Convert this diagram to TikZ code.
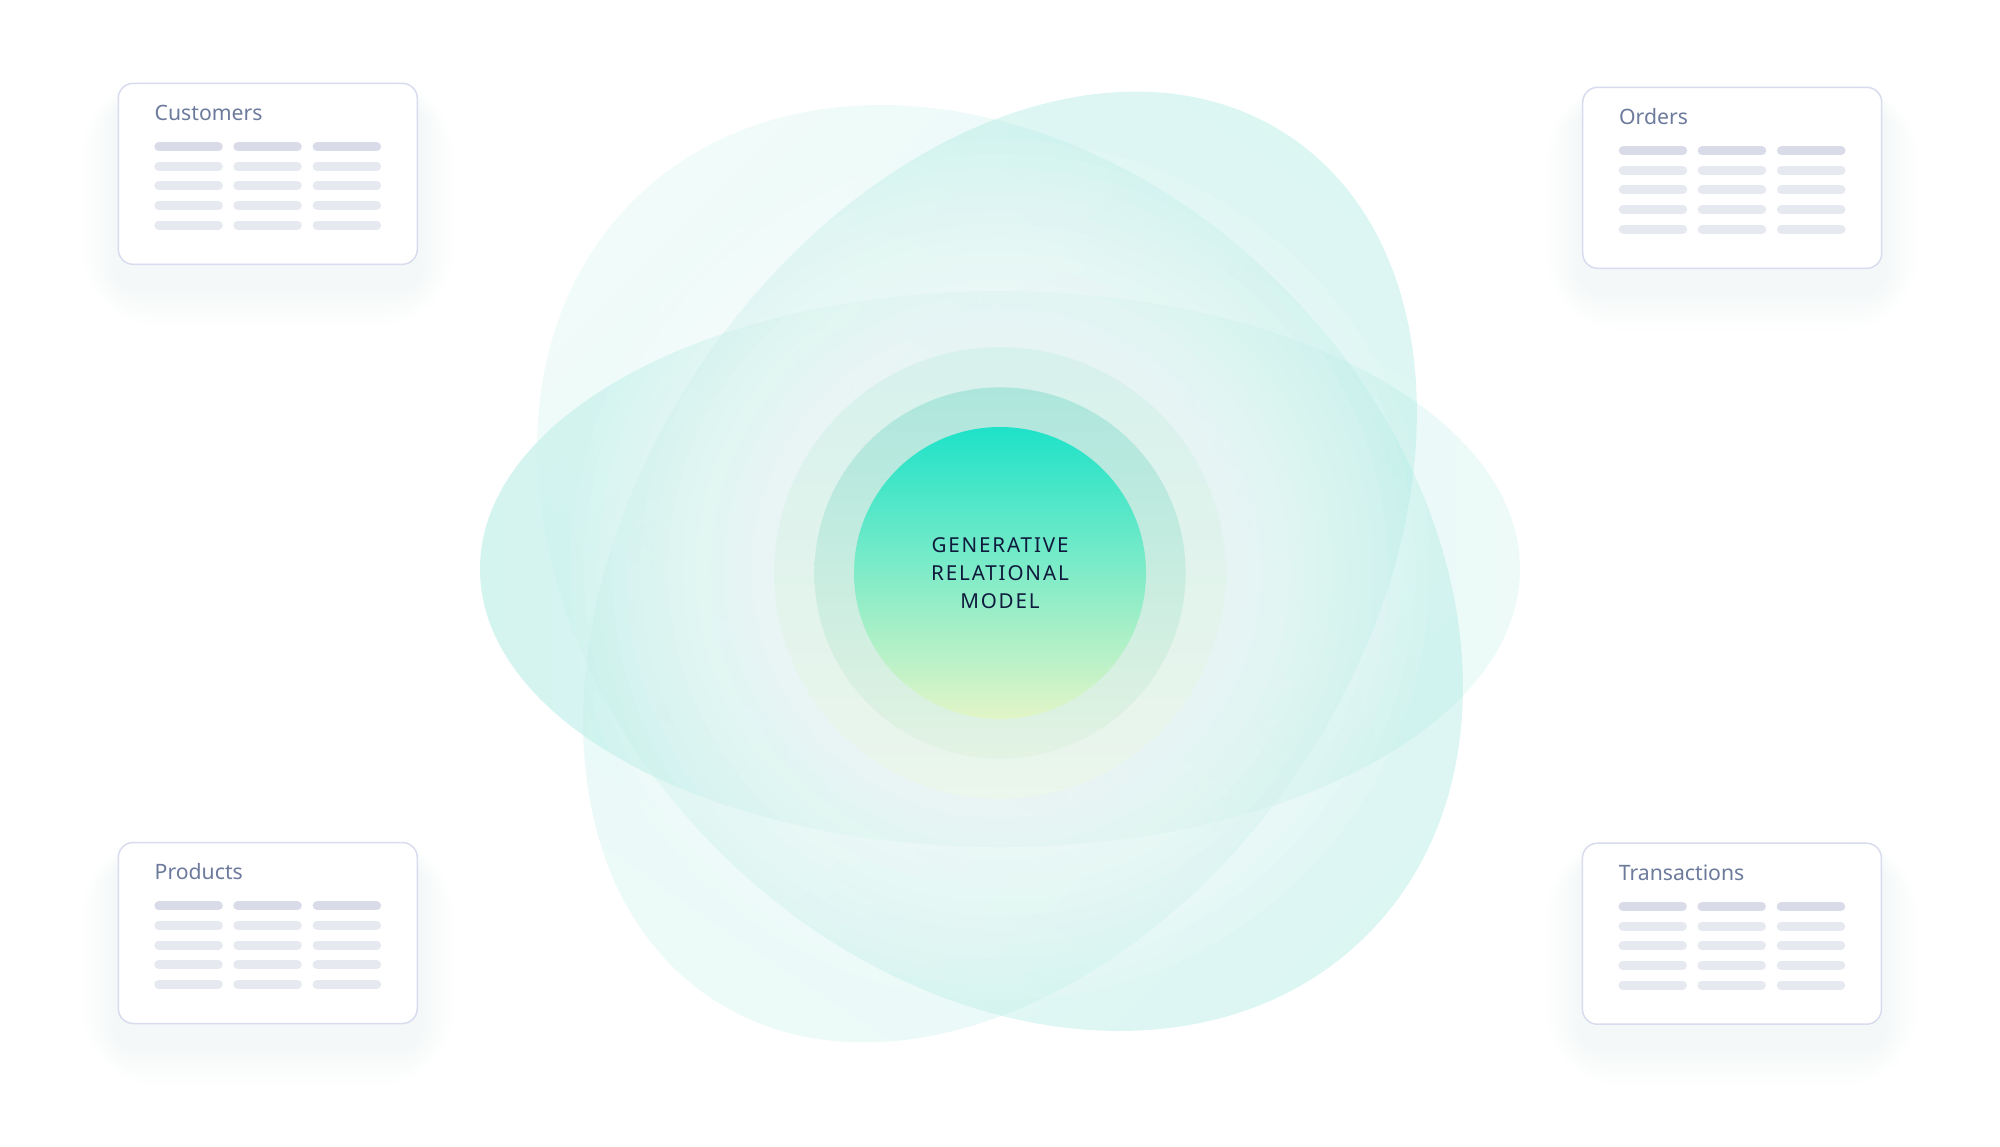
\documentclass[tikz,border=0pt]{standalone}
\usepackage{fontspec}
\setmainfont{Noto Sans}
\newfontfamily\trackedfont[LetterSpace=9]{Noto Sans}
\usetikzlibrary{calc, positioning}
\definecolor{blob}{HTML}{2CC9B4}
\definecolor{cardline}{HTML}{D8DCEE}
\definecolor{cardtext}{HTML}{6C7A9C}
\definecolor{barhead}{HTML}{D9DCE8}
\definecolor{barrow}{HTML}{E7E9F1}
\definecolor{cardshadow}{HTML}{8AB3B5}
\definecolor{coretop}{HTML}{1EE2C8}
\definecolor{coremid}{HTML}{5BE6C8}
\definecolor{corebot}{HTML}{E2F5C7}
\definecolor{ringtop}{HTML}{ADE6DD}
\definecolor{ringbot}{HTML}{E3F3E3}
\definecolor{halotop}{HTML}{D7F1EC}
\definecolor{halobot}{HTML}{EBF6EC}
\definecolor{coretext}{HTML}{0F1B3C}
\tikzset{
    card/.style = {
        draw=cardline, fill=white, line width=0.75pt, rounded corners=7.5pt,
        minimum width=149.5pt, minimum height=90.5pt, inner sep=0pt
    },
    cardtitle/.style = {
        font=\fontsize{10.6pt}{13pt}\selectfont, text=cardtext, inner sep=0pt, anchor=base west
    },
    bar/.style = {line width=4.5pt, line cap=round},
    disc/.style = {circle, inner sep=0pt, draw=none},
    blobfill/.style = {fill opacity=0.33},
    pics/TableCard/.style = {
        code = {
            % soft shadow under the card
            \foreach \s in {1,...,12}{
                \pgfmathsetmacro\rc{7.5+2.5*\s}
                \fill[cardshadow, fill opacity=0.007, rounded corners=\rc pt]
                    (-149.5-3*\s, -70.5-2*\s) rectangle (149.5+3*\s, 110.5+3.5*\s);
            }
            \node [card] (-edge) {};
            \node [cardtitle] (-title) at (-113.5, -53.1) {#1};
            \foreach \r/\tone in {0/barhead, 1/barrow, 2/barrow, 3/barrow, 4/barrow}{
                \foreach \c in {-113.5, -34.5, 44.8}{
                    \draw[bar, \tone] (\c+4.5, -27.1+19.6*\r) -- (\c+64, -27.1+19.6*\r);
                }
            }
        }
    }
}
\begin{document}
\begin{tikzpicture}[x=0.5pt, y=-0.5pt, every node/.style={font=\fontsize{11pt}{13pt}\selectfont}]
    \useasboundingbox (0,0) rectangle (2000,1146);

    % Place the blobs
    \shade[blobfill, top color=blob!62!white, bottom color=blob!26!white, shading angle=90]
        (1000,569) ellipse [x radius=520, y radius=278];
    \shade[blobfill, shift={(1000,568)}, rotate=-45, top color=blob!21!white, bottom color=blob!50!white, shading angle=45]
        (0,0) ellipse [x radius=519, y radius=399];
    \shade[blobfill, shift={(1000,567)}, rotate=56, top color=blob!50!white, bottom color=blob!27!white, shading angle=-34]
        (0,0) ellipse [x radius=519, y radius=361];

    % white glow in the middle
    \foreach \r in {430,416,...,248}{
        \fill[white, fill opacity=0.07] (1000,570) circle [radius=\r];
    }

    % rings and core
    \node[disc, minimum size=225.8pt, top color=halotop, bottom color=halobot] (halo) at (1000,573) {};
    \node[disc, minimum size=185.6pt, top color=ringtop, bottom color=ringbot] (ring) at (1000,573) {};
    \node[disc, minimum size=146pt, top color=coretop, middle color=coremid, bottom color=corebot,
          align=center, text=coretext, font=\fontsize{10.3pt}{14pt}\selectfont\trackedfont] (core) at (1000,573)
          {GENERATIVE\\RELATIONAL\\MODEL};

    % Place the tables
    \draw (267.8,173.8) pic (customers) {TableCard=Customers};
    \draw (1732.2,177.8) pic (orders) {TableCard=Orders};
    \draw (267.8,933) pic (products) {TableCard=Products};
    \draw (1731.9,933.7) pic (transactions) {TableCard=Transactions};
\end{tikzpicture}
\end{document}
